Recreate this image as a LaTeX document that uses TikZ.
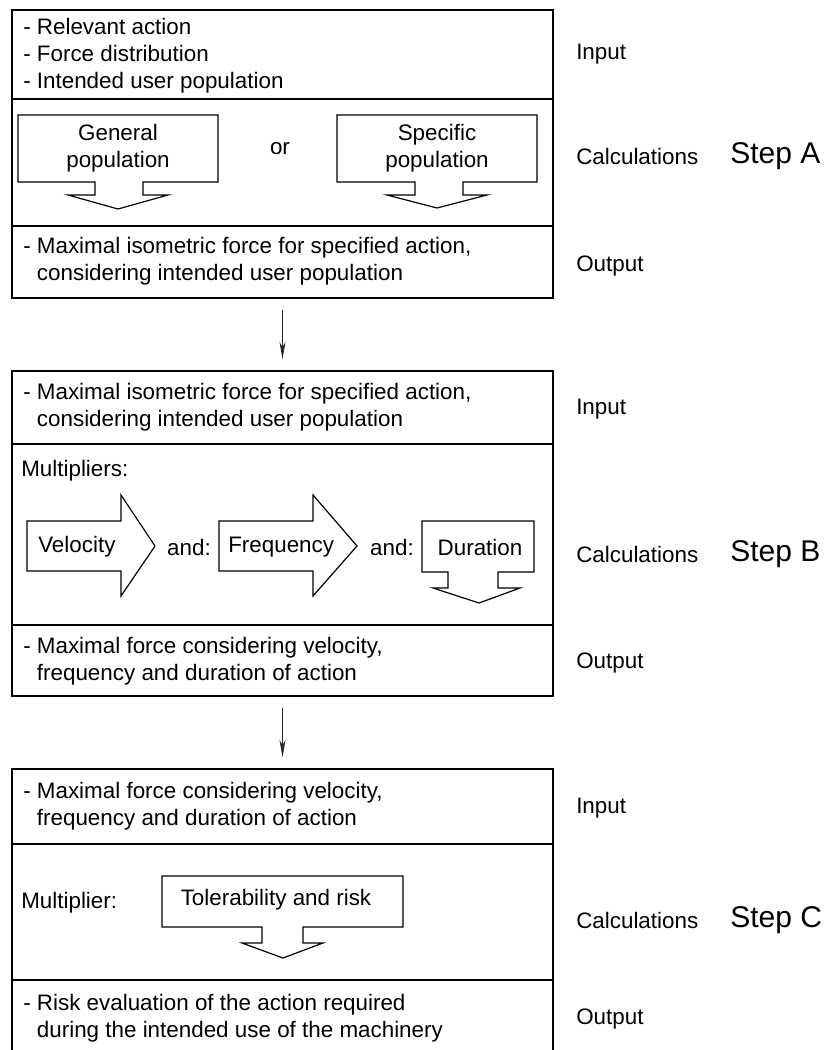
\documentclass[tikz,border=0pt]{standalone}
\usepackage{fontspec}
\setmainfont{Liberation Sans}
\usetikzlibrary{arrows.meta,fit}
\begin{document}
\begin{tikzpicture}[x=0.75pt,y=-0.75pt,
  box/.style={draw, line width=0.9pt, inner sep=0pt},
  divider/.style={line width=0.9pt},
  blockarrow/.style={draw, line width=0.9pt, fill=white, line join=miter},
  txt/.style={anchor=west, align=left, inner sep=0pt, font=\fontsize{16.8}{20.3}\selectfont},
  ctxt/.style={anchor=center, align=center, inner sep=0pt, font=\fontsize{16.8}{20.3}\selectfont},
  steplabel/.style={anchor=west, inner sep=0pt, font=\fontsize{22.5}{26}\selectfont},
  conn/.style={line width=0.6pt, black!85, -{Stealth[length=13pt,width=4.5pt]}, shorten <=8.5pt, shorten >=8.5pt}
]
\useasboundingbox (0,0) rectangle (824,1050);

% ---------------- Step A ----------------
\node[box, fit={(12,10)(553,298)}] (A) {};
\draw[divider] (12,99) -- (553,99);
\draw[divider] (12,226) -- (553,226);
\node[txt] (Ain) at (23,56) {- Relevant action\\- Force distribution\\- Intended user population};
\draw[blockarrow] (18,115) -- (218,115) -- (218,182) -- (143,182) -- (143,195) -- (168,195) -- (118,209) -- (68,195) -- (95,195) -- (95,182) -- (18,182) -- cycle;
\node[ctxt] (gen) at (118,148) {General\\population};
\node[ctxt] (or) at (280,149) {or};
\draw[blockarrow] (337,115) -- (537,115) -- (537,182) -- (463,182) -- (463,195) -- (487,195) -- (437,208) -- (387,195) -- (415,195) -- (415,182) -- (337,182) -- cycle;
\node[ctxt] (spec) at (437,148) {Specific\\population};
\node[txt] (Aout) at (23,261) {- Maximal isometric force for specified action,\\\hphantom{- }considering intended user population};
\node[txt] (Ainl) at (576,54) {Input};
\node[txt] (Acal) at (576,156) {Calculations};
\node[txt] (Aoutl) at (576,266) {Output};
\node[steplabel] (SA) at (730,156) {Step A};

% ---------------- Step B ----------------
\node[box, fit={(12,371)(553,696)}] (B) {};
\draw[divider] (12,444) -- (553,444);
\draw[divider] (12,625) -- (553,625);
\node[txt] (Bin) at (23,407) {- Maximal isometric force for specified action,\\\hphantom{- }considering intended user population};
\node[txt] (mult) at (21,471) {Multipliers:};
\draw[blockarrow] (27,521) -- (121,521) -- (121,495) -- (155,546) -- (121,596) -- (121,571) -- (27,571) -- cycle;
\node[txt] (vel) at (38,547) {Velocity};
\node[ctxt] (and1) at (189,547) {and:};
\draw[blockarrow] (219,521) -- (313,521) -- (313,495) -- (357,546) -- (313,596) -- (313,571) -- (219,571) -- cycle;
\node[txt] (freq) at (228,547) {Frequency};
\node[ctxt] (and2) at (392,547) {and:};
\draw[blockarrow] (422,521) -- (534,521) -- (534,572) -- (498,572) -- (498,588) -- (520,588) -- (479,603) -- (433,588) -- (448,588) -- (448,572) -- (422,572) -- cycle;
\node[ctxt] (dur) at (480,547) {Duration};
\node[txt] (Bout) at (23,661) {- Maximal force considering velocity,\\\hphantom{- }frequency and duration of action};
\node[txt] (Binl) at (576,409) {Input};
\node[txt] (Bcal) at (576,554) {Calculations};
\node[txt] (Boutl) at (576,663) {Output};
\node[steplabel] (SB) at (730,554) {Step B};

% ---------------- Step C ----------------
\node[box, fit={(12,769)(553,1062)}] (C) {};
\draw[divider] (12,844) -- (553,844);
\draw[divider] (12,980) -- (553,980);
\node[txt] (Cin) at (23,806) {- Maximal force considering velocity,\\\hphantom{- }frequency and duration of action};
\node[txt] (mult2) at (21,903) {Multiplier:};
\draw[blockarrow] (162,876) -- (403,876) -- (403,927) -- (303,927) -- (303,943) -- (323,943) -- (283,958) -- (242,943) -- (262,943) -- (262,927) -- (162,927) -- cycle;
\node[ctxt] (tol) at (276,900) {Tolerability and risk};
\node[txt] (Cout) at (23,1018) {- Risk evaluation of the action required\\\hphantom{- }during the intended use of the machinery};
\node[txt] (Cinl) at (576,808) {Input};
\node[txt] (Ccal) at (576,920) {Calculations};
\node[txt] (Coutl) at (576,1019) {Output};
\node[steplabel] (SC) at (730,920) {Step C};

% ---------------- connectors ----------------
\draw[conn] (A.south) -- (B.north);
\draw[conn] (B.south) -- (C.north);
\end{tikzpicture}
\end{document}
